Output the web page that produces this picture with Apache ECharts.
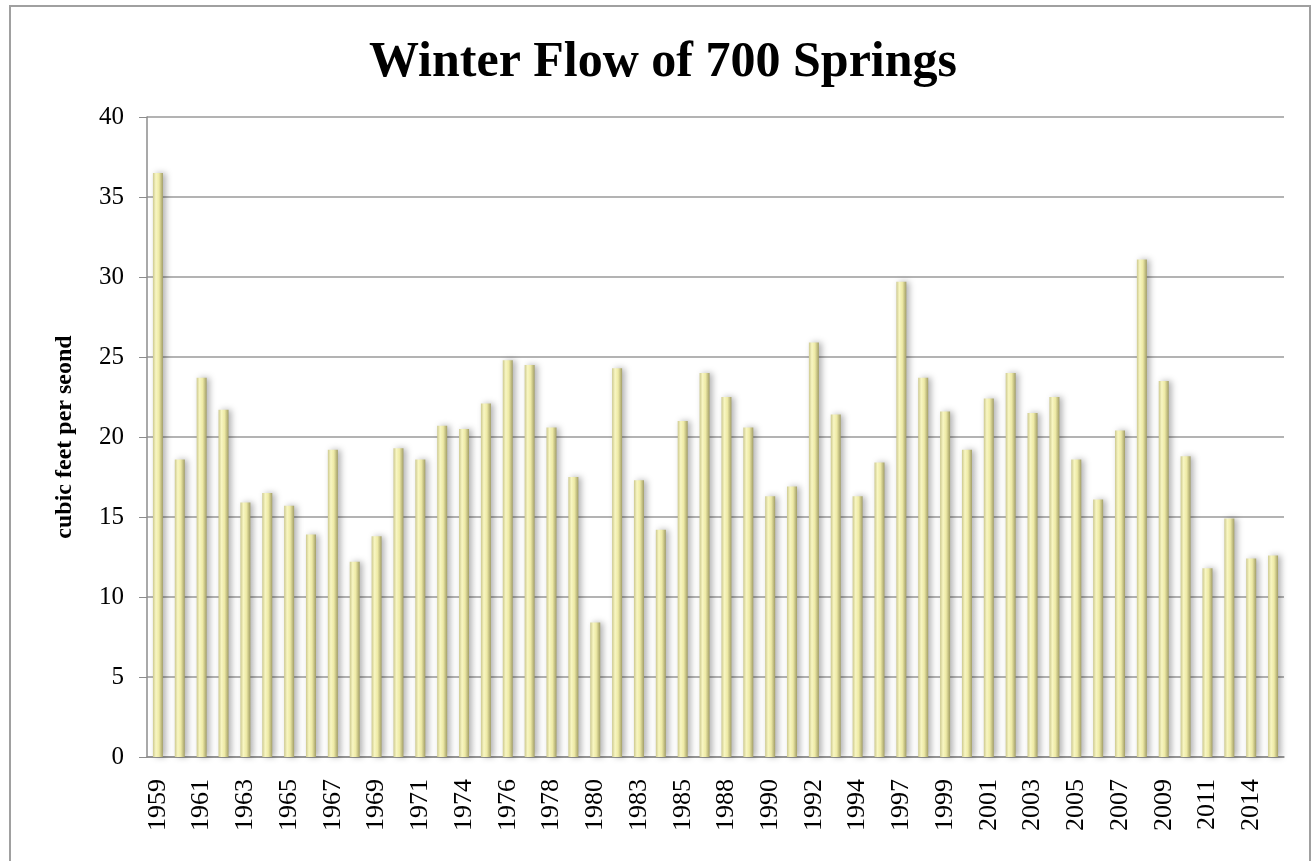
<!DOCTYPE html>
<html>
<head>
<meta charset="utf-8">
<title>Winter Flow of 700 Springs</title>
<script src="https://cdn.jsdelivr.net/npm/echarts@6/dist/echarts.min.js"></script>
<style>
  html, body { margin: 0; padding: 0; background: #fff; }
  #main { width: 1312px; height: 861px; }
</style>
</head>
<body>
<div id="main"></div>
<script>
  // years shown on the axis (some years have no record)
  var years = ['1959','1960','1961','1962','1963','1964','1965','1966','1967','1968',
    '1969','1970','1971','1973','1974','1975','1976','1977','1978','1979',
    '1980','1982','1983','1984','1985','1987','1988','1989','1990','1991',
    '1992','1993','1994','1996','1997','1998','1999','2000','2001','2002',
    '2003','2004','2005','2006','2007','2008','2009','2010','2011','2013',
    '2014','2015'];
  // winter flow, cubic feet per second
  var flow = [36.5, 18.6, 23.7, 21.7, 15.9, 16.5, 15.7, 13.9, 19.2, 12.2,
    13.8, 19.3, 18.6, 20.7, 20.5, 22.1, 24.8, 24.5, 20.6, 17.5,
    8.4, 24.3, 17.3, 14.2, 21.0, 24.0, 22.5, 20.6, 16.3, 16.9,
    25.9, 21.4, 16.3, 18.4, 29.7, 23.7, 21.6, 19.2, 22.4, 24.0,
    21.5, 22.5, 18.6, 16.1, 20.4, 31.1, 23.5, 18.8, 11.8, 14.9,
    12.4, 12.6];
  var yTicks = { min: 0, max: 40, step: 5 };

  var serif = '"Liberation Serif", "DejaVu Serif", serif';
  var myChart = echarts.init(document.getElementById('main'));

  myChart.setOption({
    animation: false,
    backgroundColor: '#fff',
    title: {
      text: 'Winter Flow of 700 Springs',
      left: 364,
      top: 33,
      textStyle: { fontFamily: serif, fontSize: 50, fontWeight: 'bold', color: '#000' }
    },
    graphic: [{
      type: 'rect',
      shape: { x: 10, y: 6, width: 1300, height: 900 },
      style: { fill: 'none', stroke: '#a0a0a0', lineWidth: 2 },
      silent: true
    }],
    grid: { left: 147, right: 28, top: 117, bottom: 104 },
    xAxis: {
      type: 'category',
      data: years,
      axisLine: { lineStyle: { color: '#8c8c8c', width: 1.5 } },
      axisTick: { interval: 0, length: 8, lineStyle: { color: '#8c8c8c' } },
      axisLabel: {
        interval: 1,
        rotate: 90,
        margin: 22,
        fontFamily: serif,
        fontSize: 26,
        color: '#000'
      }
    },
    yAxis: {
      type: 'value',
      min: yTicks.min,
      max: yTicks.max,
      interval: yTicks.step,
      name: 'cubic feet per seond',
      nameLocation: 'middle',
      nameGap: 70,
      nameTextStyle: { fontFamily: serif, fontSize: 24, fontWeight: 'bold', color: '#000' },
      axisLine: { show: true, lineStyle: { color: '#8c8c8c', width: 1.5 } },
      axisTick: { show: true, length: 8, lineStyle: { color: '#8c8c8c' } },
      axisLabel: { margin: 23, fontFamily: serif, fontSize: 25, color: '#000' },
      splitLine: { lineStyle: { color: '#9a9a9a', width: 1.5 } }
    },
    series: [{
      type: 'bar',
      data: flow,
      barWidth: 10,
      itemStyle: {
        color: new echarts.graphic.LinearGradient(0, 0, 1, 0, [
          { offset: 0, color: '#cdc98f' },
          { offset: 0.3, color: '#f8f6c2' },
          { offset: 0.6, color: '#eeeaa6' },
          { offset: 1, color: '#a29e66' }
        ]),
        shadowColor: 'rgba(0,0,0,0.3)',
        shadowBlur: 6,
        shadowOffsetX: 3
      }
    }]
  });
</script>
</body>
</html>
